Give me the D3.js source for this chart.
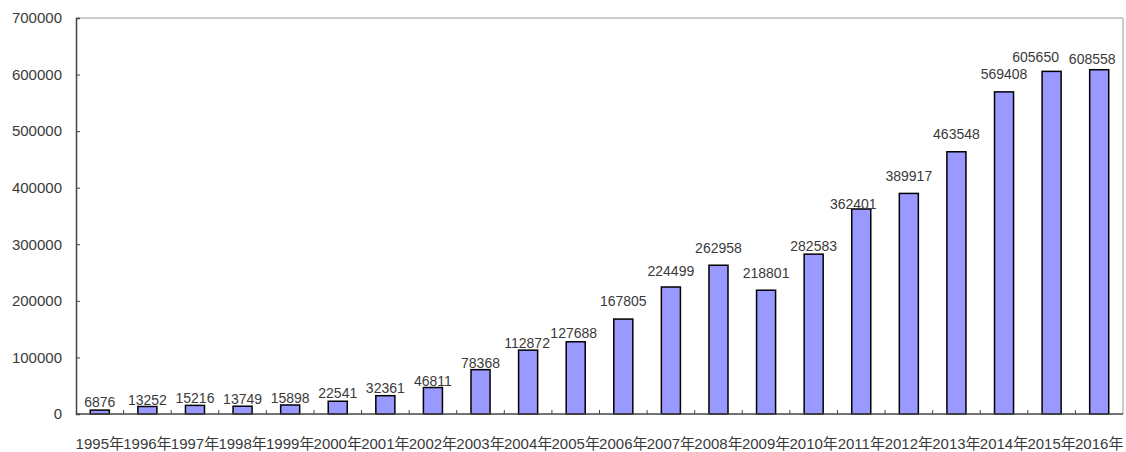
<!DOCTYPE html>
<html><head><meta charset="utf-8">
<script src="https://cdn.jsdelivr.net/npm/d3@7"></script>
<style>
body{margin:0;background:#fff;}
text{font-family:"Liberation Sans","Noto Sans CJK SC",sans-serif;fill:#3a3a3a;}
</style></head>
<body>
<svg id="c" width="1126" height="452"></svg>
<script>
const years = ["1995年","1996年","1997年","1998年","1999年","2000年","2001年","2002年","2003年","2004年","2005年","2006年","2007年","2008年","2009年","2010年","2011年","2012年","2013年","2014年","2015年","2016年"];
const values = [6876,13252,15216,13749,15898,22541,32361,46811,78368,112872,127688,167805,224499,262958,218801,282583,362401,389917,463548,569408,605650,608558];
const yTicks = [0,100000,200000,300000,400000,500000,600000,700000];
// layout: label offsets (px) from the bar top / bar centre, as placed in the reference
const labelGap = [3,2,2,2,2,3,3,2,2,2,4,13,11,12,12,3,0,12,13,13,9,6];
const labelDx  = [0,0,0,0,0,0,0,0,0,-1,-2,0,0,0,0,0,-8,0,0,0,-16,-7];

const svg = d3.select("#c");
const L=76, R=1123, T=18, B=414;
const x = d3.scaleBand().domain(years).range([L,R]).paddingInner(0.6).paddingOuter(0.3);
const y = d3.scaleLinear().domain([0,700000]).range([B,T]);

// frame top/right
svg.append("path").attr("d",`M${L},${T}H${R}V${B}`).attr("fill","none").attr("stroke","#999").attr("stroke-width",1);

// bars
svg.selectAll("rect.bar").data(values).enter().append("rect")
  .attr("x",(d,i)=>x(years[i])).attr("y",d=>y(d))
  .attr("width",x.bandwidth()).attr("height",d=>B-y(d))
  .attr("fill","#9999FF").attr("stroke","#000").attr("stroke-width",1.5);

// value labels
svg.selectAll("text.v").data(values).enter().append("text")
  .attr("x",(d,i)=>x(years[i])+x.bandwidth()/2+labelDx[i]).attr("y",(d,i)=>y(d)-labelGap[i])
  .attr("text-anchor","middle").attr("font-size",14).text(d=>d);

// y axis
const ya = svg.append("g").attr("transform",`translate(${L},0)`)
  .call(d3.axisLeft(y).tickValues(yTicks).tickSize(-4).tickPadding(14).tickFormat(d3.format("d")));
ya.select(".domain").attr("stroke","#444").attr("stroke-width",1.5);
ya.selectAll("line").attr("stroke","#444");
ya.selectAll("text").attr("font-size",15).style("fill","#3a3a3a");

// x axis
const xa = svg.append("g").attr("transform",`translate(0,${B})`)
  .call(d3.axisBottom(x).tickSize(0).tickPadding(24));
xa.select(".domain").attr("d",`M${L},0H${R}`).attr("stroke","#444").attr("stroke-width",1.5);
xa.selectAll("text").attr("font-size",15).style("fill","#3a3a3a");
// boundary ticks between categories (inside)
svg.append("g").selectAll("line").data(years.slice(1)).enter().append("line")
  .attr("x1",d=>x(d)-x.bandwidth()*0.75).attr("x2",d=>x(d)-x.bandwidth()*0.75)
  .attr("y1",B).attr("y2",B-4).attr("stroke","#444");
</script>
</body></html>
